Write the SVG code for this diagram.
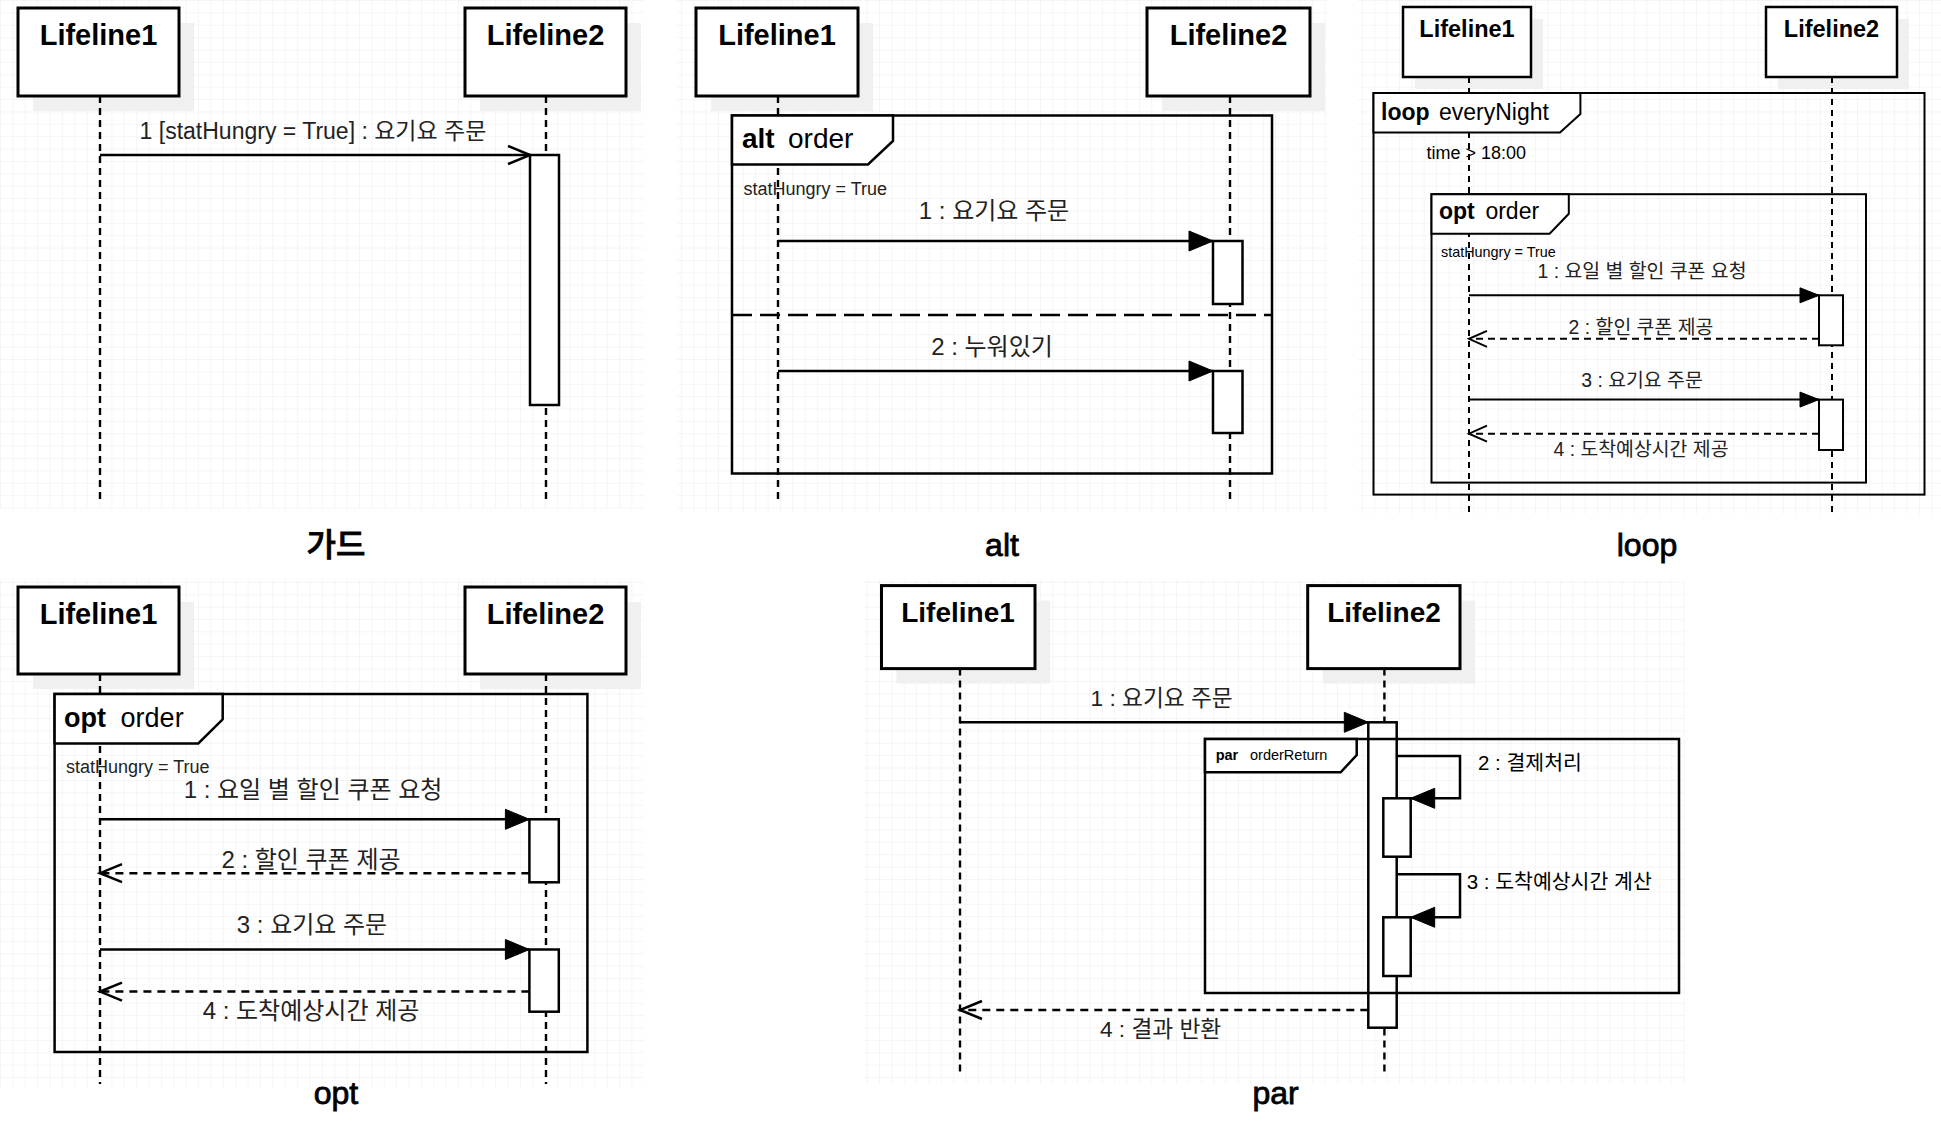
<svg xmlns="http://www.w3.org/2000/svg" width="1941" height="1133" viewBox="0 0 1941 1133">
<defs>
<pattern id="grid" patternUnits="userSpaceOnUse" width="12.38" height="12.38">
<path d="M12.38 0 L0 0 0 12.38" fill="none" stroke="#ebebeb" stroke-width="1"/>
</pattern>
<marker id="blk" markerUnits="userSpaceOnUse" markerWidth="26" markerHeight="22" refX="24" refY="10" orient="auto" overflow="visible">
<path d="M0 0 L24 10 L0 20 Z" fill="#000" stroke="#000" stroke-width="1"/>
</marker>
<marker id="blkS" markerUnits="userSpaceOnUse" markerWidth="20" markerHeight="16" refX="19" refY="7.5" orient="auto" overflow="visible">
<path d="M0 0 L19 7.5 L0 15 Z" fill="#000" stroke="#000" stroke-width="1"/>
</marker>
<marker id="opn" markerUnits="userSpaceOnUse" markerWidth="24" markerHeight="20" refX="22" refY="9" orient="auto" overflow="visible">
<path d="M0 0 L22 9 L0 18" fill="none" stroke="#000" stroke-width="2.5" stroke-dasharray="none"/>
</marker>
<marker id="opnS" markerUnits="userSpaceOnUse" markerWidth="20" markerHeight="18" refX="18" refY="8" orient="auto" overflow="visible">
<path d="M0 0 L18 8 L0 16" fill="none" stroke="#000" stroke-width="2" stroke-dasharray="none"/>
</marker>
</defs>
<style>
text{font-family:"Liberation Sans","Noto Sans CJK KR",sans-serif;fill:#000}
.ll{font-weight:bold;font-size:29px;text-anchor:middle}
.llS{font-weight:bold;font-size:23.5px;text-anchor:middle}
.box{fill:#fff;stroke:#000;stroke-width:3}
.boxS{fill:#fff;stroke:#000;stroke-width:2.5}
.shd{fill:#f0f0f0}
.life{stroke:#000;stroke-width:2.4;stroke-dasharray:7 5;fill:none}
.lifeS{stroke:#000;stroke-width:2;stroke-dasharray:6 5;fill:none}
.act{fill:#fff;stroke:#000;stroke-width:2.5}
.actS{fill:#fff;stroke:#000;stroke-width:2}
.frm{fill:none;stroke:#000;stroke-width:2.5}
.frmS{fill:none;stroke:#000;stroke-width:2}
.tab{fill:#fff;stroke:#000;stroke-width:2.5}
.tabS{fill:#fff;stroke:#000;stroke-width:2}
.msg{fill:none;stroke:#000;stroke-width:2.5}
.msgS{fill:none;stroke:#000;stroke-width:2}
.ret{fill:none;stroke:#000;stroke-width:2.5;stroke-dasharray:8 6}
.retS{fill:none;stroke:#000;stroke-width:2;stroke-dasharray:7 5}
.lbl{font-size:24px;text-anchor:middle;fill:#222}
.lblS{font-size:19.4px;text-anchor:middle;fill:#222}
.grd{font-size:18px;fill:#222}
.ttl{font-size:32px;font-weight:500;text-anchor:middle;stroke:#000;stroke-width:0.8}
.kw{font-weight:bold}
</style>
<rect width="1941" height="1133" fill="#fff"/>
<g id="grids">
<rect x="0" y="0" width="644" height="509" fill="url(#grid)"/>
<rect x="677" y="0" width="650" height="512" fill="url(#grid)"/>
<rect x="1358" y="0" width="583" height="514" fill="url(#grid)"/>
<rect x="0" y="579" width="644" height="510" fill="url(#grid)"/>
<rect x="863" y="580" width="822" height="504" fill="url(#grid)"/>
</g>

<!-- Panel 1: guard -->
<g id="p1-lifeline1">
<rect class="shd" x="33" y="23" width="161" height="88"/>
<rect class="box" x="18" y="8" width="161" height="88"/>
<text class="ll" x="98.5" y="45">Lifeline1</text>
<line class="life" x1="100" y1="96" x2="100" y2="502"/>
</g>
<g id="p1-lifeline2">
<rect class="shd" x="480" y="23" width="161" height="88"/>
<rect class="box" x="465" y="8" width="161" height="88"/>
<text class="ll" x="545.5" y="45">Lifeline2</text>
<line class="life" x1="546" y1="96" x2="546" y2="502"/>
</g>
<g id="p1-act1"><rect class="act" x="530" y="155" width="29" height="250"/></g>
<g id="p1-title"><text class="ttl" x="336" y="556">가드</text></g>

<!-- Panel 2: alt -->
<g id="p2-lifeline1">
<rect class="shd" x="711" y="23" width="162" height="88"/>
<rect class="box" x="696" y="8" width="162" height="88"/>
<text class="ll" x="777" y="45">Lifeline1</text>
<line class="life" x1="778" y1="96" x2="778" y2="502"/>
</g>
<g id="p2-lifeline2">
<rect class="shd" x="1162" y="23" width="163" height="88"/>
<rect class="box" x="1147" y="8" width="163" height="88"/>
<text class="ll" x="1228.5" y="45">Lifeline2</text>
<line class="life" x1="1230" y1="96" x2="1230" y2="502"/>
</g>
<g id="p2-alt">
<rect class="frm" x="732" y="115.5" width="540" height="358"/>
<polygon class="tab" points="732,115.5 893,115.5 893,141 868,164.5 732,164.5"/>
<text x="742" y="148" font-size="28"><tspan class="kw">alt</tspan><tspan x="788">order</tspan></text>
<text class="grd" x="743.5" y="195">statHungry = True</text>
<line x1="732" y1="315" x2="1272" y2="315" stroke="#000" stroke-width="2.5" stroke-dasharray="20 8"/>
</g>
<g id="p2-act1"><rect class="act" x="1213" y="241" width="29.5" height="63"/></g>
<g id="p2-act2"><rect class="act" x="1213" y="371" width="29.5" height="62"/></g>
<g id="p2-title"><text class="ttl" x="1002" y="556">alt</text></g>

<!-- Panel 3: loop -->
<g id="p3-lifeline1">
<rect class="shd" x="1415" y="19" width="128" height="70"/>
<rect class="boxS" x="1403" y="7" width="128" height="70"/>
<text class="llS" x="1467" y="37">Lifeline1</text>
<line class="lifeS" x1="1469" y1="77" x2="1469" y2="513"/>
</g>
<g id="p3-lifeline2">
<rect class="shd" x="1778" y="19" width="131" height="70"/>
<rect class="boxS" x="1766" y="7" width="131" height="70"/>
<text class="llS" x="1831.5" y="37">Lifeline2</text>
<line class="lifeS" x1="1832" y1="77" x2="1832" y2="513"/>
</g>
<g id="p3-loop">
<rect class="frmS" x="1373.5" y="93" width="551" height="401.6"/>
<polygon class="tabS" points="1373.5,93 1580.4,93 1580.4,114 1560,132.6 1373.5,132.6"/>
<text x="1381" y="119.6" font-size="23"><tspan class="kw">loop</tspan><tspan x="1439">everyNight</tspan></text>
<text x="1426.5" y="159.4" font-size="18" fill="#222">time &gt; 18:00</text>
</g>
<g id="p3-opt">
<rect class="frmS" x="1431.5" y="194.2" width="434.5" height="288.4"/>
<polygon class="tabS" points="1431.5,194.2 1568.8,194.2 1568.8,213.8 1549.6,233.7 1431.5,233.7"/>
<text x="1439" y="219" font-size="23"><tspan class="kw">opt</tspan><tspan x="1485.4">order</tspan></text>
<text x="1441" y="257" font-size="14.4" fill="#222">statHungry = True</text>
</g>
<g id="p3-act1"><rect class="actS" x="1819" y="295.3" width="24" height="50"/></g>
<g id="p3-act2"><rect class="actS" x="1819" y="399.6" width="24" height="50.4"/></g>
<g id="p3-title"><text class="ttl" x="1647" y="556">loop</text></g>

<!-- Panel 4: opt -->
<g id="p4-lifeline1">
<rect class="shd" x="33" y="602" width="161" height="87"/>
<rect class="box" x="18" y="587" width="161" height="87"/>
<text class="ll" x="98.5" y="624">Lifeline1</text>
<line class="life" x1="100" y1="674" x2="100" y2="1084"/>
</g>
<g id="p4-lifeline2">
<rect class="shd" x="480" y="602" width="161" height="87"/>
<rect class="box" x="465" y="587" width="161" height="87"/>
<text class="ll" x="545.5" y="624">Lifeline2</text>
<line class="life" x1="546" y1="674" x2="546" y2="1084"/>
</g>
<g id="p4-opt">
<rect class="frm" x="54.6" y="694" width="532.8" height="358"/>
<polygon class="tab" points="54.6,694 222.7,694 222.7,719.3 198.3,743.4 54.6,743.4"/>
<text x="64" y="726.5" font-size="27"><tspan class="kw">opt</tspan><tspan x="120.6">order</tspan></text>
<text class="grd" x="66" y="773">statHungry = True</text>
</g>
<g id="p4-act1"><rect class="act" x="529.4" y="819.3" width="29.4" height="63"/></g>
<g id="p4-act2"><rect class="act" x="529.4" y="949.5" width="29.4" height="62.2"/></g>
<g id="p4-title"><text class="ttl" x="336" y="1104">opt</text></g>

<!-- Panel 5: par -->
<g id="p5-lifeline1">
<rect class="shd" x="896.5" y="600.6" width="153.5" height="83"/>
<rect class="box" x="881.5" y="585.6" width="153.5" height="83"/>
<text class="ll" x="958" y="622" style="font-size:28px">Lifeline1</text>
<line class="life" x1="960" y1="668.6" x2="960" y2="1072"/>
</g>
<g id="p5-lifeline2">
<rect class="shd" x="1322.7" y="600.6" width="152.3" height="83"/>
<rect class="box" x="1307.7" y="585.6" width="152.3" height="83"/>
<text class="ll" x="1384" y="622" style="font-size:28px">Lifeline2</text>
<line class="life" x1="1384.4" y1="668.6" x2="1384.4" y2="1072"/>
</g>
<g id="p5-act-main"><rect class="act" x="1368.3" y="722.3" width="28.4" height="305.4"/></g>
<g id="p5-par">
<rect class="frm" x="1205" y="739" width="474" height="254"/>
<polygon class="tab" points="1205,739 1356.7,739 1356.7,755 1340.7,772.3 1205,772.3"/>
<text x="1215.7" y="760" font-size="14.5"><tspan class="kw">par</tspan><tspan x="1250">orderReturn</tspan></text>
</g>
<g id="p5-act2"><rect class="act" x="1383.3" y="798.3" width="27.4" height="58.4"/></g>
<g id="p5-act3"><rect class="act" x="1383.3" y="917.3" width="27.4" height="58.7"/></g>
<g id="p5-title"><text class="ttl" x="1275.5" y="1104">par</text></g>

<g id="connectors">
<!-- panel 1 -->
<line class="msg" x1="100" y1="155" x2="530" y2="155" marker-end="url(#opn)"/>
<text class="lbl" x="313" y="139" style="font-size:23px">1 [statHungry = True] : 요기요 주문</text>
<!-- panel 2 -->
<line class="msg" x1="778" y1="241" x2="1213" y2="241" marker-end="url(#blk)"/>
<text class="lbl" x="994" y="219">1 : 요기요 주문</text>
<line class="msg" x1="778" y1="371" x2="1213" y2="371" marker-end="url(#blk)"/>
<text class="lbl" x="992" y="355">2 : 누워있기</text>
<!-- panel 3 -->
<line class="msgS" x1="1469" y1="295.3" x2="1819" y2="295.3" marker-end="url(#blkS)"/>
<text class="lblS" x="1642" y="278">1 : 요일 별 할인 쿠폰 요청</text>
<line class="retS" x1="1819" y1="338.8" x2="1469" y2="338.8" marker-end="url(#opnS)"/>
<text class="lblS" x="1641" y="334">2 : 할인 쿠폰 제공</text>
<line class="msgS" x1="1469" y1="399.6" x2="1819" y2="399.6" marker-end="url(#blkS)"/>
<text class="lblS" x="1642" y="387">3 : 요기요 주문</text>
<line class="retS" x1="1819" y1="433.7" x2="1469" y2="433.7" marker-end="url(#opnS)"/>
<text class="lblS" x="1641" y="456">4 : 도착예상시간 제공</text>
<!-- panel 4 -->
<line class="msg" x1="100" y1="819.3" x2="529.4" y2="819.3" marker-end="url(#blk)"/>
<text class="lbl" x="313" y="798">1 : 요일 별 할인 쿠폰 요청</text>
<line class="ret" x1="529.4" y1="873.2" x2="100" y2="873.2" marker-end="url(#opn)"/>
<text class="lbl" x="311" y="868">2 : 할인 쿠폰 제공</text>
<line class="msg" x1="100" y1="949.5" x2="529.4" y2="949.5" marker-end="url(#blk)"/>
<text class="lbl" x="312" y="932.5">3 : 요기요 주문</text>
<line class="ret" x1="529.4" y1="991.6" x2="100" y2="991.6" marker-end="url(#opn)"/>
<text class="lbl" x="311" y="1019">4 : 도착예상시간 제공</text>
<!-- panel 5 -->
<line class="msg" x1="960" y1="722.3" x2="1368.3" y2="722.3" marker-end="url(#blk)"/>
<text class="lbl" x="1161.6" y="706" style="font-size:22.7px">1 : 요기요 주문</text>
<path class="msg" d="M1396.7 756 H1460 V798.3 H1410.7" marker-end="url(#blk)"/>
<text x="1478" y="770" font-size="20.5" fill="#222">2 : 결제처리</text>
<path class="msg" d="M1396.7 874.3 H1460 V917.3 H1410.7" marker-end="url(#blk)"/>
<text x="1466.7" y="889" font-size="20.5" fill="#222">3 : 도착예상시간 계산</text>
<line class="ret" x1="1368.3" y1="1010" x2="960" y2="1010" marker-end="url(#opn)"/>
<text class="lbl" x="1160.6" y="1037" style="font-size:22.7px">4 : 결과 반환</text>
</g>
</svg>
